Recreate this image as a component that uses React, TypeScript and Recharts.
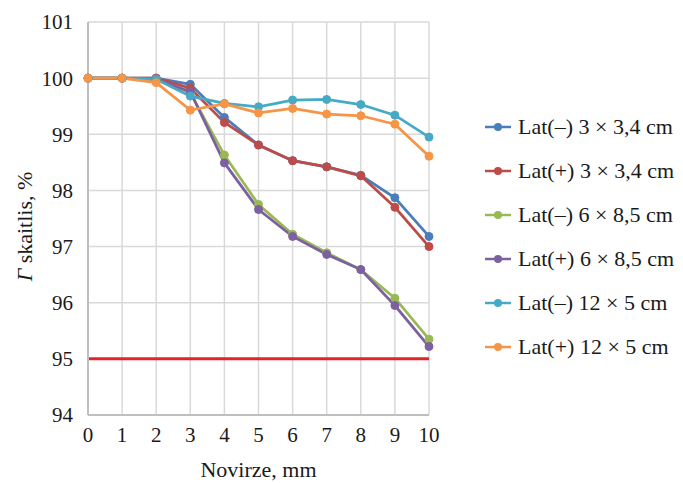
import React from 'react';
import {
  LineChart,
  Line,
  XAxis,
  YAxis,
  CartesianGrid,
  Legend,
  ReferenceLine,
} from 'recharts';

const offsets = [0, 1, 2, 3, 4, 5, 6, 7, 8, 9, 10];

const latMinus3 = [100, 100, 100, 99.89, 99.3, 98.81, 98.53, 98.42, 98.27, 97.87, 97.18];
const latPlus3 = [100, 100, 100, 99.82, 99.21, 98.81, 98.53, 98.42, 98.26, 97.7, 97.0];
const latMinus6 = [100, 100, 99.98, 99.74, 98.63, 97.75, 97.22, 96.89, 96.59, 96.08, 95.35];
const latPlus6 = [100, 100, 99.98, 99.76, 98.49, 97.66, 97.18, 96.86, 96.59, 95.95, 95.22];
const latMinus12 = [100, 100, 99.98, 99.68, 99.55, 99.49, 99.61, 99.62, 99.53, 99.34, 98.95];
const latPlus12 = [100, 100, 99.92, 99.43, 99.54, 99.38, 99.46, 99.36, 99.33, 99.18, 98.61];

const limitValue = 95;
const yTicks = [94, 95, 96, 97, 98, 99, 100, 101];

const series = [
  { key: 'lm3', name: 'Lat(–) 3 × 3,4 cm', color: '#4a7ebb', values: latMinus3 },
  { key: 'lp3', name: 'Lat(+) 3 × 3,4 cm', color: '#be4b48', values: latPlus3 },
  { key: 'lm6', name: 'Lat(–) 6 × 8,5 cm', color: '#98b954', values: latMinus6 },
  { key: 'lp6', name: 'Lat(+) 6 × 8,5 cm', color: '#7d60a0', values: latPlus6 },
  { key: 'lm12', name: 'Lat(–) 12 × 5 cm', color: '#46aac5', values: latMinus12 },
  { key: 'lp12', name: 'Lat(+) 12 × 5 cm', color: '#f69546', values: latPlus12 },
];

const data = offsets.map((x, i) => {
  const row: any = { x };
  series.forEach((s) => {
    row[s.key] = s.values[i];
  });
  return row;
});

const FONT = '"Liberation Serif", "DejaVu Serif", serif';
const LEGEND_W = 198;

const renderLegend = () => (
  <div style={{ fontFamily: FONT, fontSize: 22, color: '#1a1a1a' }}>
    {series.map((s) => (
      <div
        key={s.key}
        style={{ display: 'flex', alignItems: 'center', height: 44, whiteSpace: 'nowrap' }}
      >
        <svg width={26} height={12} style={{ marginRight: 7, flexShrink: 0 }}>
          <line x1={0} y1={6} x2={26} y2={6} stroke={s.color} strokeWidth={2.5} />
          <circle cx={13} cy={6} r={4} fill={s.color} />
        </svg>
        <span>{s.name}</span>
      </div>
    ))}
  </div>
);

const YLabel = (props: any) => {
  const { viewBox } = props;
  const cx = 24;
  const cy = viewBox.y + viewBox.height / 2 + 8;
  return (
    <text
      x={cx}
      y={cy}
      transform={`rotate(-90, ${cx}, ${cy})`}
      textAnchor="middle"
      dominantBaseline="central"
      fill="#1a1a1a"
      style={{ fontFamily: FONT, fontSize: 22 }}
    >
      <tspan fontStyle="italic">Γ</tspan>
      <tspan> skaitlis, %</tspan>
    </text>
  );
};

export default function App() {
  return (
    <div style={{ position: 'absolute', left: 0, top: 0 }}>
      <LineChart
        width={683}
        height={483}
        data={data}
        margin={{ top: 22, right: 254 - LEGEND_W, bottom: 0, left: 0 }}
      >
        <CartesianGrid stroke="#d9d9d9" strokeWidth={1.5} />
        <XAxis
          dataKey="x"
          type="number"
          domain={[0, 10]}
          ticks={offsets}
          height={68}
          tickLine={false}
          tickMargin={6}
          axisLine={{ stroke: '#bfbfbf', strokeWidth: 2 }}
          tick={{ fill: '#1a1a1a', fontSize: 21, fontFamily: FONT }}
          label={{
            value: 'Novirze, mm',
            position: 'insideBottom',
            offset: 6,
            fill: '#1a1a1a',
            fontSize: 22,
            fontFamily: FONT,
          }}
        />
        <YAxis
          type="number"
          domain={[94, 101]}
          ticks={yTicks}
          width={88}
          tickLine={false}
          tickMargin={9}
          axisLine={{ stroke: '#bfbfbf', strokeWidth: 2 }}
          tick={{ fill: '#1a1a1a', fontSize: 21, fontFamily: FONT }}
          label={<YLabel />}
        />
        <ReferenceLine y={limitValue} stroke="#e3232a" strokeWidth={3} />
        {series.map((s) => (
          <Line
            key={s.key}
            dataKey={s.key}
            name={s.name}
            stroke={s.color}
            strokeWidth={2.75}
            dot={{ r: 4, fill: s.color, stroke: s.color, strokeWidth: 1 }}
            isAnimationActive={false}
          />
        ))}
        <Legend
          layout="vertical"
          verticalAlign="top"
          align="right"
          content={renderLegend}
          wrapperStyle={{ left: 485, top: 105, width: LEGEND_W }}
        />
      </LineChart>
    </div>
  );
}
